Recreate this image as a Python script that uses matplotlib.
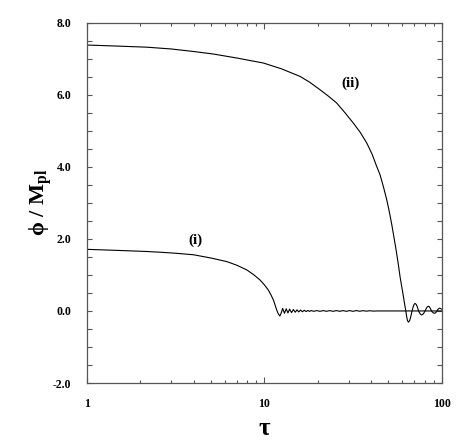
import matplotlib
matplotlib.use("Agg")
import matplotlib.pyplot as plt
from matplotlib.ticker import FixedLocator, MultipleLocator, FormatStrFormatter, LogLocator, NullFormatter

plt.rcParams['font.family'] = ['Liberation Serif', 'DejaVu Serif']
plt.rcParams['font.weight'] = 'bold'
plt.rcParams['axes.unicode_minus'] = False
plt.rcParams['mathtext.fontset'] = 'custom'
plt.rcParams['mathtext.rm'] = 'Liberation Serif:bold'
plt.rcParams['mathtext.it'] = 'Liberation Serif:bold'
plt.rcParams['mathtext.bf'] = 'Liberation Serif:bold'

# curva (i): piccolo valore iniziale, oscilla dopo tau ~ 12
tau_i = [1.0, 1.5, 2.18, 2.59, 3.2, 3.99, 5.0, 6.15, 7.0, 7.97, 8.7, 9.47, 10.0,
         10.55, 10.9, 11.25, 11.5, 11.75, 12.0, 12.25, 12.45,
         12.7, 13.0, 13.3, 13.6, 13.9, 14.25, 14.6, 14.95, 15.3, 15.65, 16.0,
         16.4, 16.8, 17.2, 17.6, 18.0, 18.4,
         19.0, 19.8, 20.6, 21.5, 22.4, 23.4, 24.4, 25.5, 26.6, 27.8, 29.0,
         30.3, 31.6, 33.0, 34.5, 36.0, 37.6, 39.3, 41.0, 43.0, 50.0, 100.0]
phi_i = [1.71, 1.68, 1.65, 1.63, 1.60, 1.56, 1.47, 1.37, 1.27, 1.14, 1.01, 0.86, 0.73,
         0.58, 0.45, 0.31, 0.17, 0.03, -0.08, -0.14, -0.06,
         0.07, -0.065, 0.06, -0.055, 0.05, -0.045, 0.04, -0.035, 0.03, -0.027, 0.024,
         -0.021, 0.018, -0.016, 0.014, -0.012, 0.011,
         -0.01, 0.01, -0.01, 0.01, -0.01, 0.01, -0.01, 0.01, -0.01, 0.01, -0.01,
         0.01, -0.01, 0.01, -0.008, 0.008, -0.006, 0.006, -0.004, 0.0, 0.0, 0.0]

# curva (ii): valore iniziale grande
tau_ii = [1.0, 1.5, 2.18, 3.0, 4.0, 5.17, 7.0, 9.9, 12.5, 15.9, 18.0, 20.6, 23.0,
          25.6, 28.5, 31.8, 34.8, 37.8, 40.5, 43.0, 44.9, 47.0, 49.0, 50.7, 52.3,
          53.8, 55.3, 56.8, 58.2, 59.5, 60.8, 61.8, 62.7,
          63.4, 64.1, 64.9, 65.9, 66.9, 68.0,
          68.9, 69.8, 70.7, 71.8, 72.9, 74.0,
          75.0, 76.0, 77.1, 78.2, 79.3, 80.5,
          81.7, 82.8, 84.0, 85.2, 86.3, 87.5,
          88.6, 89.7, 90.8, 91.9, 93.0, 94.0,
          95.0, 96.0, 97.0, 98.0, 99.0, 100.0]
phi_ii = [7.38, 7.35, 7.32, 7.27, 7.20, 7.13, 7.02, 6.88, 6.72, 6.51, 6.35, 6.14, 5.96,
          5.77, 5.50, 5.21, 4.95, 4.66, 4.35, 4.01, 3.78, 3.43, 3.08, 2.74, 2.39,
          2.04, 1.69, 1.32, 0.95, 0.67, 0.40, 0.18, 0.0,
          -0.155, -0.27, -0.31, -0.27, -0.155, 0.0,
          0.105, 0.18, 0.21, 0.18, 0.105, 0.0,
          -0.055, -0.095, -0.11, -0.095, -0.055, 0.0,
          0.065, 0.113, 0.13, 0.113, 0.065, 0.0,
          -0.033, -0.056, -0.065, -0.056, -0.033, 0.0,
          0.038, 0.065, 0.075, 0.07, 0.06, 0.05]

fig = plt.figure(figsize=(4.71, 4.43), dpi=100)
ax = fig.add_axes([0.184, 0.1354, 0.754, 0.8134])

ax.plot(tau_i, phi_i, color='black', lw=0.8)
ax.plot(tau_ii, phi_ii, color='black', lw=0.8)

ax.set_xscale('log')
ax.set_xlim(1, 100)
ax.set_ylim(-2, 8)

ax.xaxis.set_major_locator(FixedLocator([1, 10, 100]))
ax.xaxis.set_major_formatter(FormatStrFormatter('%d'))
ax.xaxis.set_minor_locator(LogLocator(base=10, subs=range(2, 10)))
ax.xaxis.set_minor_formatter(NullFormatter())
ax.yaxis.set_major_locator(MultipleLocator(2))
ax.yaxis.set_minor_locator(MultipleLocator(0.5))
ax.yaxis.set_major_formatter(FormatStrFormatter('%.1f'))

for s in ax.spines.values():
    s.set_color('#555555')
    s.set_linewidth(0.9)

ax.tick_params(which='both', direction='in', top=True, right=True,
               color='#555555', width=0.8, labelsize=8.5)
ax.tick_params(axis='x', which='major', length=4.5, pad=11)
ax.tick_params(axis='x', which='minor', length=2)
ax.tick_params(axis='y', which='both', length=3.5, pad=11)

ax.set_xlabel('τ', fontsize=18, fontweight='bold', labelpad=5)
ax.set_ylabel('ϕ / M$_{pl}$', fontsize=16, fontweight='bold', labelpad=-1)

ax.annotate('(i)', xy=(195, 443 - 240), xycoords='figure pixels', fontsize=11,
            fontweight='bold', ha='center', va='center')
ax.annotate('(ii)', xy=(350, 443 - 83), xycoords='figure pixels', fontsize=11,
            fontweight='bold', ha='center', va='center')

fig.savefig('out.png', dpi=100)
